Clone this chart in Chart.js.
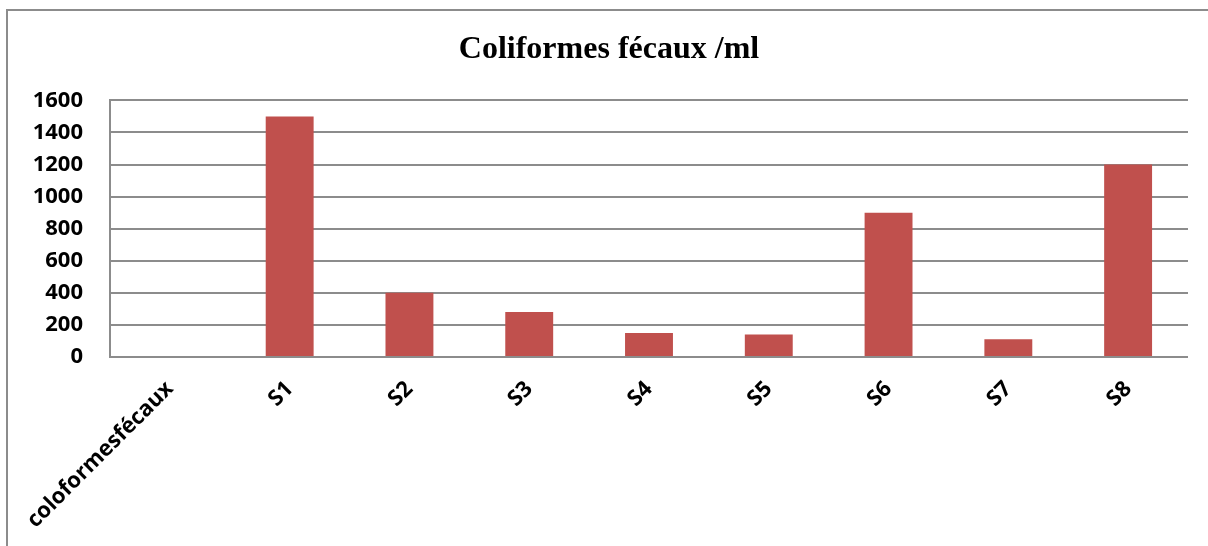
<!DOCTYPE html>
<html>
<head>
<meta charset="utf-8">
<script src="https://cdn.jsdelivr.net/npm/chart.js@4/dist/chart.umd.min.js"></script>
<style>
  html, body { margin: 0; padding: 0; background: #fff; }
  #wrap { position: relative; width: 1208px; height: 546px; }
</style>
</head>
<body>
<div id="wrap"><canvas id="c" width="1208" height="546"></canvas></div>
<script>
// Sampling sites and fecal coliform counts per ml
const categories = ['coloformesfécaux', 'S1', 'S2', 'S3', 'S4', 'S5', 'S6', 'S7', 'S8'];
const counts = [0, 1500, 400, 280, 150, 140, 900, 110, 1200];
const yTicks = [0, 200, 400, 600, 800, 1000, 1200, 1400, 1600];
const chartTitle = 'Coliformes fécaux /ml';

const GRID = '#8c8c8c';
const TICK_FONT = { family: '"Open Sans", "Noto Sans", sans-serif', size: 22, weight: 'bold' };

// Outer frame: top and left edges
const framePlugin = {
  id: 'frame',
  beforeDraw(chart) {
    const ctx = chart.ctx;
    ctx.save();
    ctx.fillStyle = '#ffffff';
    ctx.fillRect(0, 0, chart.width, chart.height);
    ctx.strokeStyle = GRID;
    ctx.lineWidth = 2;
    ctx.beginPath();
    ctx.moveTo(7, chart.height);
    ctx.lineTo(7, 10);
    ctx.lineTo(chart.width, 10);
    ctx.stroke();
    ctx.restore();
  }
};

new Chart(document.getElementById('c'), {
  type: 'bar',
  data: {
    labels: categories,
    datasets: [{
      data: counts,
      backgroundColor: '#c0504d',
      borderWidth: 0,
      barPercentage: 0.8,
      categoryPercentage: 0.5
    }]
  },
  options: {
    responsive: false,
    animation: false,
    devicePixelRatio: 1,
    layout: { padding: { left: 30, right: 20, top: 0, bottom: 0 } },
    plugins: {
      legend: { display: false },
      tooltip: { enabled: false },
      title: {
        display: true,
        text: chartTitle,
        color: '#000',
        font: { family: '"Liberation Serif", "Times New Roman", serif', size: 32, weight: 'bold' },
        padding: { top: 31, bottom: 31 }
      }
    },
    scales: {
      x: {
        grid: { display: false, drawTicks: false },
        border: { display: false },
        ticks: {
          autoSkip: false,
          minRotation: 45,
          maxRotation: 45,
          padding: 19,
          color: '#000',
          font: TICK_FONT
        },
        afterFit(scale) { scale.height = 189; }
      },
      y: {
        min: 0,
        max: 1600,
        afterBuildTicks(scale) { scale.ticks = yTicks.map(v => ({ value: v })); },
        grid: { color: GRID, lineWidth: 2, drawTicks: false },
        border: { display: true, color: GRID, width: 2 },
        ticks: {
          padding: 27,
          color: '#000',
          font: TICK_FONT,
          callback: (v) => String(v)
        },
        afterFit(scale) { scale.width = 80; }
      }
    }
  },
  plugins: [framePlugin]
});
</script>
</body>
</html>
